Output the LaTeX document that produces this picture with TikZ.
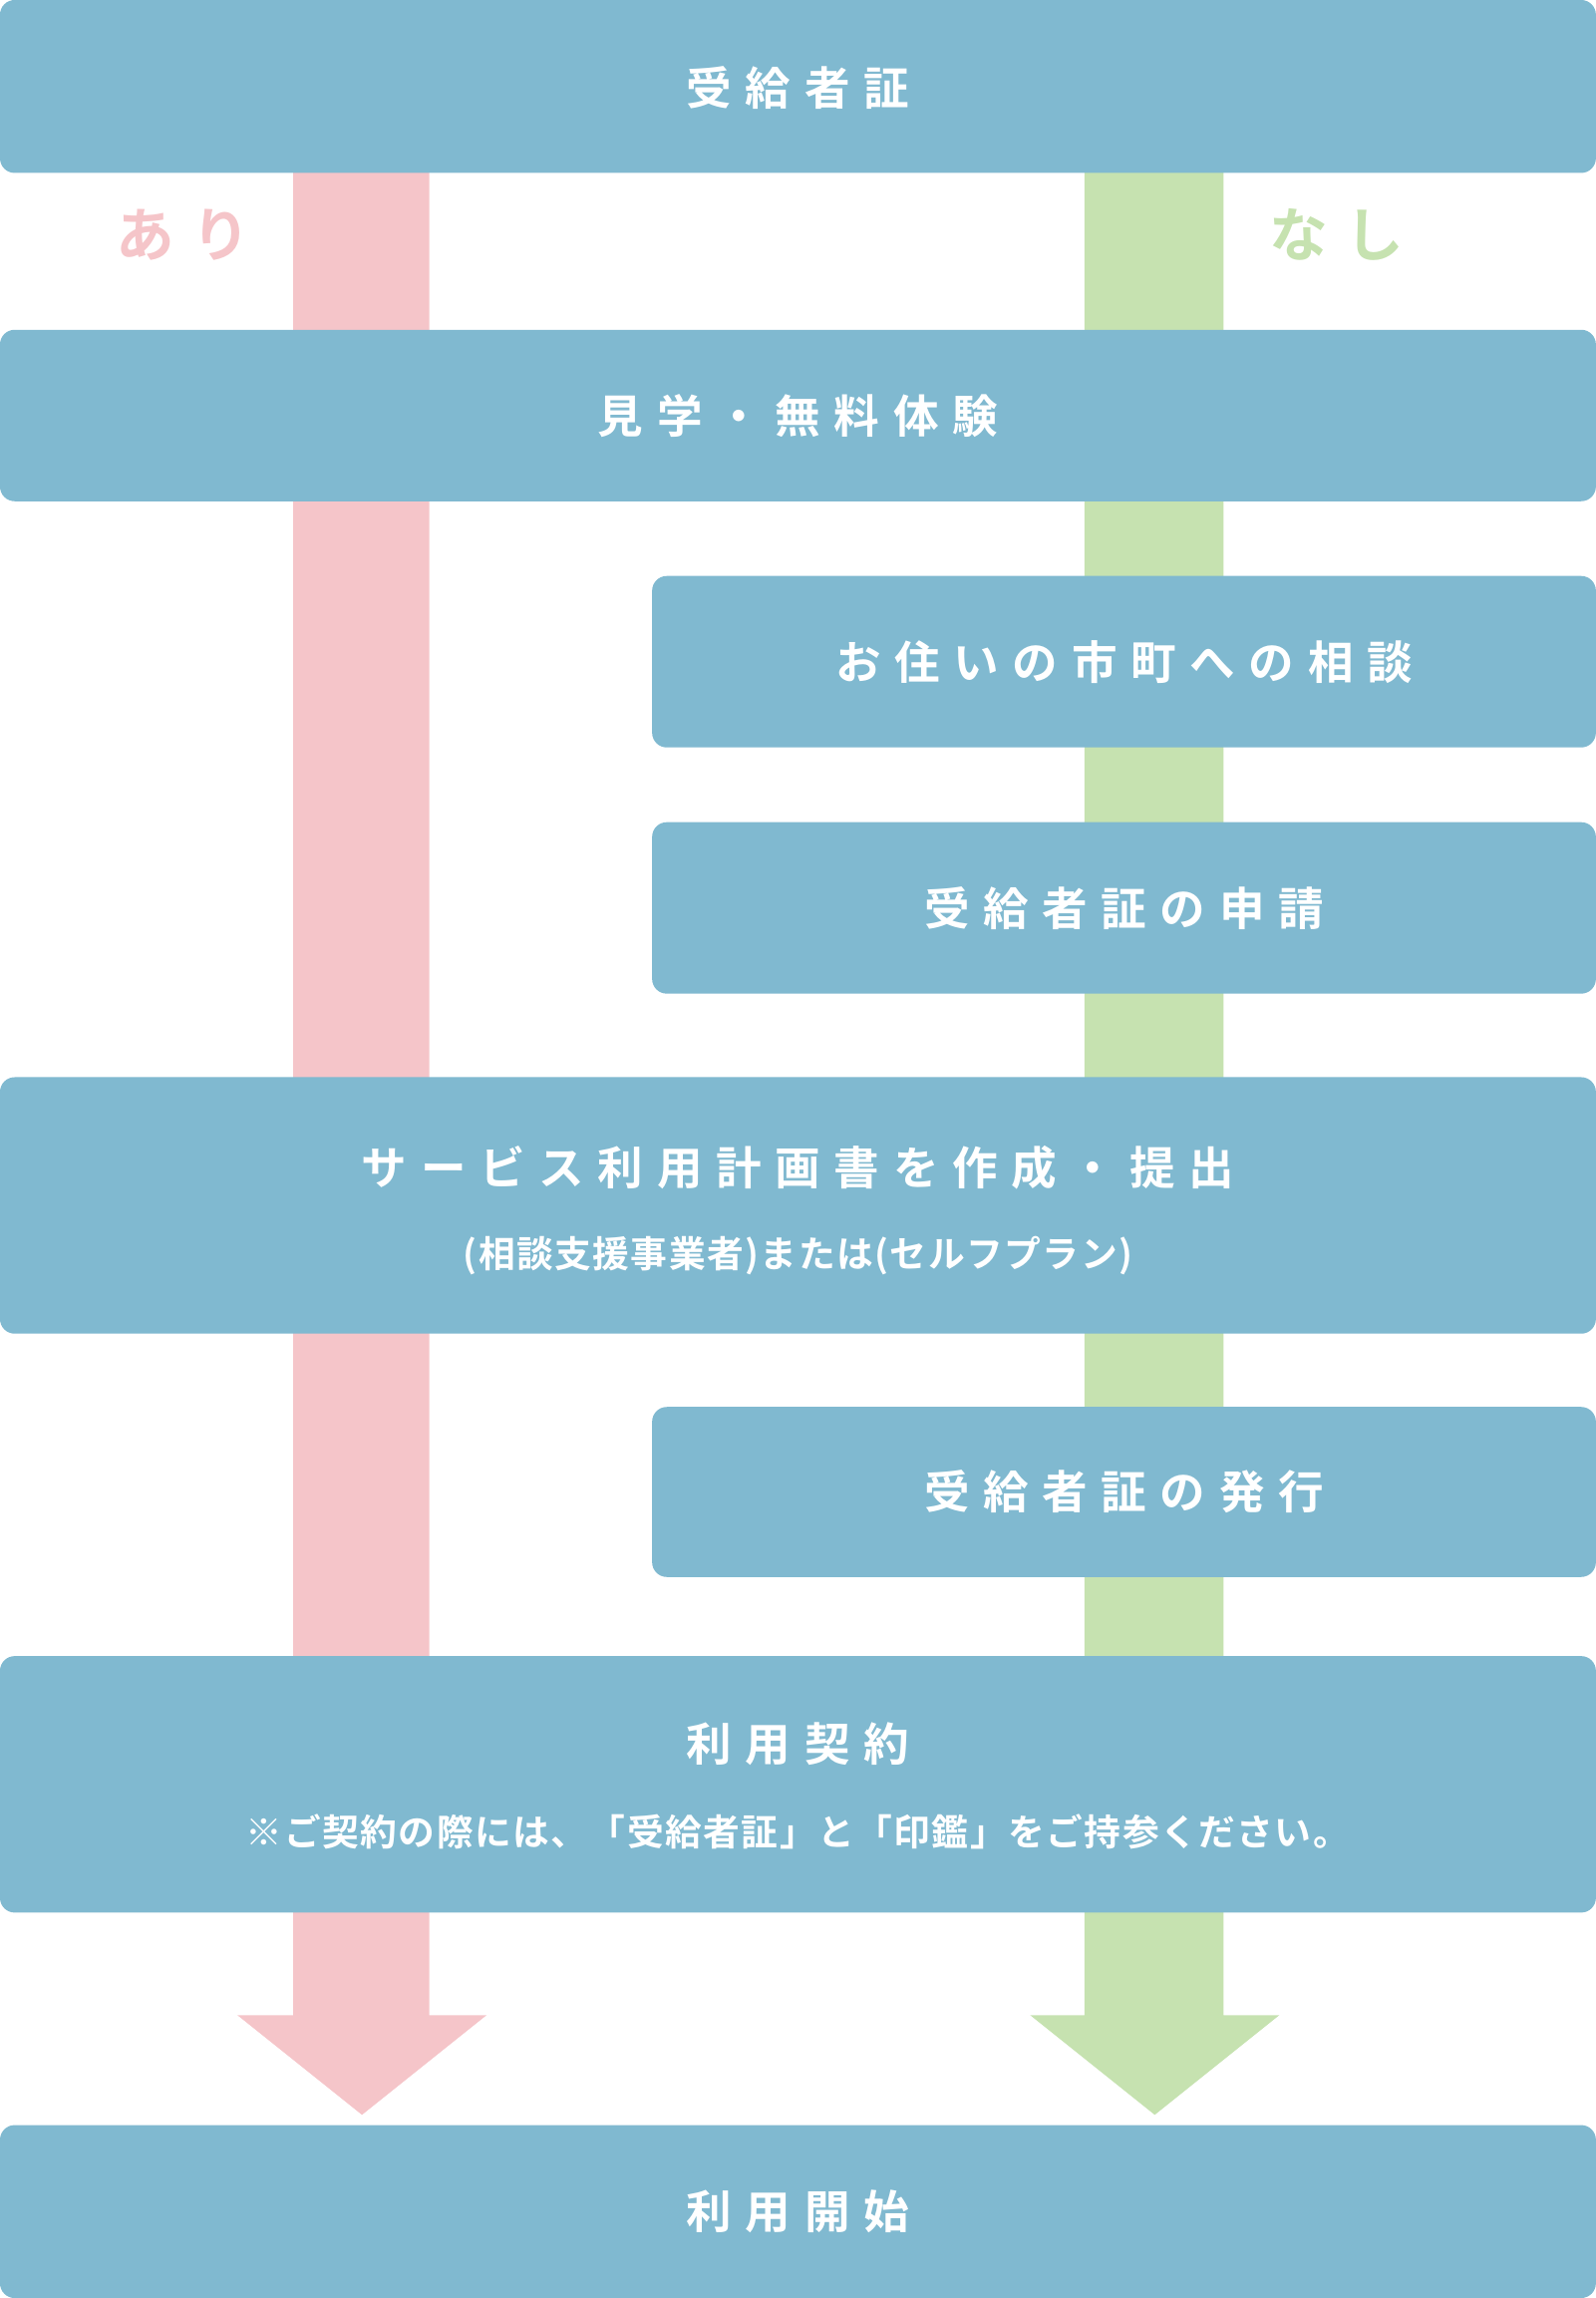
\documentclass[tikz,border=0pt]{standalone}
\usepackage{fontspec}
\newfontfamily\cjk[LetterSpace=30,BoldFont={Noto Sans CJK JP Bold}]{Noto Sans CJK JP}
\newfontfamily\cjks[LetterSpace=4,BoldFont={Noto Sans CJK JP Bold}]{Noto Sans CJK JP}
\definecolor{boxc}{HTML}{80B9D0}
\definecolor{pinkc}{HTML}{F5C5C9}
\definecolor{greenc}{HTML}{C6E2B0}
\begin{document}
\begin{tikzpicture}[x=1pt,y=-1pt,
  box/.style={fill=boxc,rounded corners=10pt},
  txt/.style={text=white,font=\cjk\bfseries\fontsize{31}{36}\selectfont,inner sep=0},
  txts/.style={text=white,font=\cjks\bfseries\fontsize{25}{30}\selectfont,inner sep=0}]
\useasboundingbox (0,0) rectangle (1089,1568);
% arrows
\fill[pinkc] (200,110) -- (293,110) -- (293,1375) -- (332,1375) -- (247,1443) -- (162,1375) -- (200,1375) -- cycle;
\fill[greenc] (740,110) -- (835,110) -- (835,1375) -- (873,1375) -- (788,1443) -- (703,1375) -- (740,1375) -- cycle;
\node[text=pinkc,font=\cjk\bfseries\fontsize{40}{44}\selectfont,inner sep=0] (ari) at (125,160) {あり};
\node[text=greenc,font=\cjk\bfseries\fontsize{40}{44}\selectfont,inner sep=0] (nashi) at (912,160) {なし};
% boxes
\fill[box] (0,0) rectangle (1089,118);
\node[txt] (b1) at (544.5,60) {受給者証};
\fill[box] (0,225) rectangle (1089,342);
\node[txt] (b2) at (544.5,284) {見学・無料体験};
\fill[box] (445,393) rectangle (1089,510);
\node[txt] (b3) at (767,452) {お住いの市町への相談};
\fill[box] (445,561) rectangle (1089,678);
\node[txt] (b4) at (767,620) {受給者証の申請};
\fill[box] (0,735) rectangle (1089,910);
\node[txt] (b5) at (544.5,797) {サービス利用計画書を作成・提出};
\node[txts] (b5b) at (544.5,857) {(相談支援事業者)または(セルフプラン)};
\fill[box] (445,960) rectangle (1089,1076);
\node[txt] (b6) at (767,1018) {受給者証の発行};
\fill[box] (0,1130) rectangle (1089,1305);
\node[txt] (b7) at (544.5,1190) {利用契約};
\node[txts] (b7b) at (544.5,1250) {※ご契約の際には、「受給者証」と「印鑑」をご持参ください。};
\fill[box] (0,1450) rectangle (1089,1568);
\node[txt] (b8) at (544.5,1509) {利用開始};
\end{tikzpicture}
\end{document}
